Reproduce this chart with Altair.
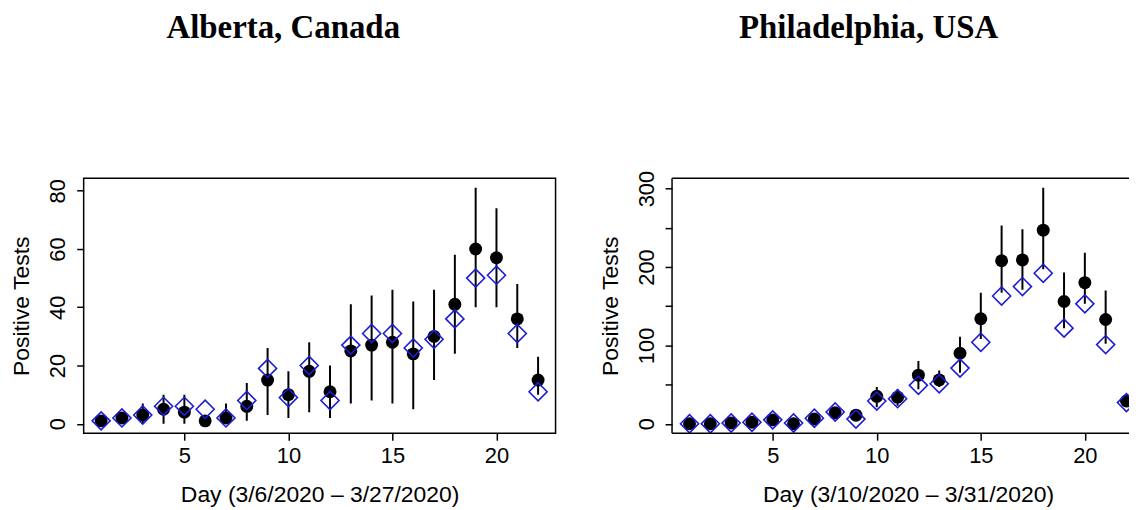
import altair as alt
import pandas as pd

days = list(range(1, 23))

alberta_obs = [1, 2, 3, 5, 4, 1, 2, 6, 15, 10, 18, 11, 25, 27, 28, 24, 30, 41, 60, 57, 36, 15]
alberta_pred = [1, 2, 3, 6, 6, 5, 2, 8, 19, 9, 20, 8, 27, 31, 31, 26, 29, 36, 50, 51, 31, 11]
alberta_lo = [0, 0, 0, 0, 0, 0, 0, 1, 3, 2, 4, 2, 7, 8, 7, 5, 15, 24, 40, 40, 26, 10]
alberta_hi = [2, 4, 7, 10, 10, 3, 7, 14, 26, 18, 28, 20, 41, 44, 46, 42, 46, 58, 81, 74, 48, 23]

philly_obs = [0, 0, 1, 2, 5, 0, 6, 14, 11, 35, 34, 62, 56, 90, 134, 208, 209, 247, 156, 180, 133, 29]
philly_pred = [0, 0, 1, 2, 5, 1, 7, 15, 6, 29, 32, 49, 51, 71, 104, 163, 175, 192, 122, 153, 101, 27]
philly_lo = [0, 0, 0, 0, 1, 0, 2, 8, 5, 21, 23, 44, 47, 65, 108, 167, 171, 197, 122, 153, 102, 22]
philly_hi = [2, 2, 3, 4, 9, 2, 11, 20, 16, 47, 44, 80, 68, 111, 167, 253, 248, 301, 193, 218, 170, 35]

BLUE = "#1c1cd8"
FONT = "Liberation Sans"
PX_PER_DAY = 474 / 22.68
H = 256


def panel(title, xtitle, obs, pred, lo, hi, ydomain, yvalues, label_step,
          width, xmax, title_offset, title_dx, full_frame):
    df = pd.DataFrame({"day": days, "obs": obs, "pred": pred, "lo": lo, "hi": hi})
    x = alt.X(
        "day:Q",
        scale=alt.Scale(domain=[0.16, xmax], nice=False, zero=False),
        axis=alt.Axis(values=[5, 10, 15, 20], title=xtitle, labelPadding=5,
                      titlePadding=18, titleX=237),
    )
    yscale = alt.Scale(domain=ydomain, nice=False, zero=False)
    yaxis = alt.Axis(
        values=yvalues,
        title="Positive Tests",
        labelAngle=270,
        labelPadding=7,
        titlePadding=13,
        labelExpr=f"datum.value % {label_step} == 0 ? datum.label : ''",
    )
    base = alt.Chart(df)
    bars = base.mark_rule(color="black", strokeWidth=2, clip=True).encode(
        x=x, y=alt.Y("lo:Q", scale=yscale, axis=yaxis), y2="hi:Q"
    )
    dots = base.mark_point(shape="circle", filled=True, color="black", size=169,
                           opacity=1, clip=True).encode(
        x=x, y=alt.Y("obs:Q", scale=yscale, axis=yaxis)
    )
    dia = base.mark_point(shape="diamond", filled=False, color=BLUE, size=330,
                          strokeWidth=1.6, opacity=1, clip=True).encode(
        x=x, y=alt.Y("pred:Q", scale=yscale, axis=yaxis)
    )
    layers = [bars, dots, dia]
    view = alt.ViewBackground(stroke="black", strokeWidth=1.5)
    if not full_frame:
        view = alt.ViewBackground(stroke="white", strokeWidth=0, strokeOpacity=0)
        one = alt.Chart(pd.DataFrame({"k": [0]}))
        top = one.mark_rule(color="black", strokeWidth=1.5).encode(
            x=alt.value(0), x2=alt.value(width), y=alt.value(0))
        bottom = one.mark_rule(color="black", strokeWidth=1.5).encode(
            x=alt.value(0), x2=alt.value(width), y=alt.value(H))
        leftside = one.mark_rule(color="black", strokeWidth=1.5).encode(
            x=alt.value(0), y=alt.value(0), y2=alt.value(H))
        layers += [top, bottom, leftside]
    return alt.layer(*layers).properties(
        width=width,
        height=H,
        view=view,
        title=alt.TitleParams(
            text=title,
            font="Liberation Serif",
            fontSize=33,
            fontWeight="bold",
            color="black",
            anchor="middle",
            frame="bounds",
            offset=title_offset,
            dx=title_dx,
        ),
    )


left = panel("Alberta, Canada", "Day (3/6/2020 \u2013 3/27/2020)",
             alberta_obs, alberta_pred, alberta_lo, alberta_hi,
             [-3.24, 84.24], [0, 20, 40, 60, 80], 20,
             474, 22.84, 134, 0, True)
right_w = 459
right = panel("Philadelphia, USA", "Day (3/10/2020 \u2013 3/31/2020)",
              philly_obs, philly_pred, philly_lo, philly_hi,
              [-12.04, 313.04], [0, 50, 100, 150, 200, 250, 300], 100,
              right_w, 0.16 + right_w / PX_PER_DAY, 126, 4, False)

chart = alt.hconcat(left, right, spacing=43).properties(
    padding={"left": 2, "top": 2, "right": 0, "bottom": 0}
).configure_view(
    stroke="black", strokeWidth=1.5
).configure_axis(
    domain=False,
    grid=False,
    tickColor="black",
    tickSize=7,
    tickWidth=1.5,
    labelFont=FONT,
    labelFontSize=22,
    labelColor="black",
    titleFont=FONT,
    titleFontSize=23,
    titleFontWeight="normal",
    titleColor="black",
)

chart.save("out.html", embed_options={"renderer": "svg", "actions": False})
